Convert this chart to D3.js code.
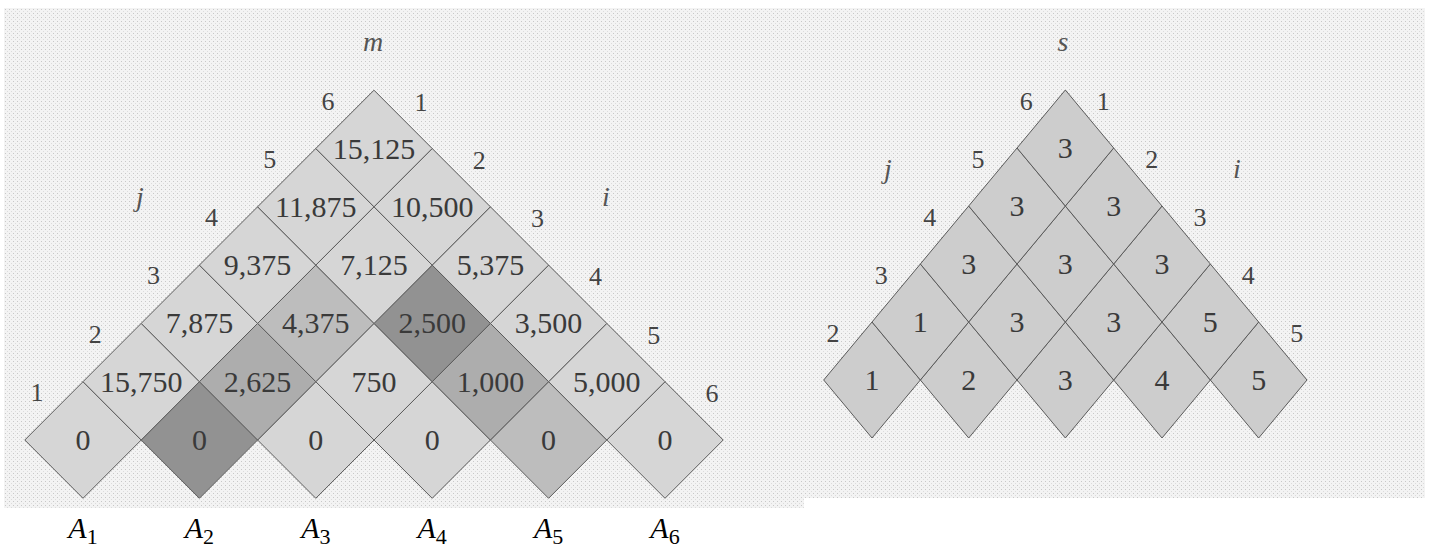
<!DOCTYPE html>
<html>
<head>
<meta charset="utf-8">
<script src="https://cdn.jsdelivr.net/npm/d3@7"></script>
<style>
  html, body { margin: 0; padding: 0; background: #ffffff; }
  svg { display: block; }
  svg text { font-family: "Liberation Serif", "DejaVu Serif", "Times New Roman", Times, serif; }
</style>
</head>
<body>
<svg id="chart" width="1429" height="548"></svg>
<script>
// ---------- DATA ----------
const matrixSize = 6;
// m table, rows by chain length l = j - i + 1
const mRow1 = [0, 0, 0, 0, 0, 0];
const mRow2 = [15750, 2625, 750, 1000, 5000];
const mRow3 = [7875, 4375, 2500, 3500];
const mRow4 = [9375, 7125, 5375];
const mRow5 = [11875, 10500];
const mRow6 = [15125];
// s table, rows by chain length l = 2..6
const sRow2 = [1, 2, 3, 4, 5];
const sRow3 = [1, 3, 3, 5];
const sRow4 = [3, 3, 3];
const sRow5 = [3, 3];
const sRow6 = [3];
// highlighted m cells: [i, j, shade group]
const highlightCells = [[2, 2, 3], [3, 5, 3], [2, 3, 2], [4, 5, 2], [2, 4, 1], [5, 5, 1]];
const matrixLabels = ["1", "2", "3", "4", "5", "6"];
const tableNames = ["m", "s"];

// ---------- STYLE ----------
const shadeColors = { 0: "#d6d6d6", 1: "#bdbdbd", 2: "#adadad", 3: "#929292" };
const sFill = "#cdcdcd";
const strokeColor = "#5a5a5a";
const textColor = "#3a3a3a";
const labelColor = "#444444";
const fmt = d3.format(",");

const svg = d3.select("#chart");

// stippled background approximation
const defs = svg.append("defs");
const pat = defs.append("pattern").attr("id", "stipple").attr("width", 4).attr("height", 4)
  .attr("patternUnits", "userSpaceOnUse");
pat.append("rect").attr("width", 4).attr("height", 4).attr("fill", "#f3f3f3");
pat.append("rect").attr("x", 1).attr("y", 1).attr("width", 1).attr("height", 1).attr("fill", "#c8c8c8");
pat.append("rect").attr("x", 3).attr("y", 3).attr("width", 1).attr("height", 1).attr("fill", "#dcdcdc");

svg.append("rect").attr("x", 4).attr("y", 8).attr("width", 800).attr("height", 500).attr("fill", "url(#stipple)");
svg.append("rect").attr("x", 800).attr("y", 8).attr("width", 625).attr("height", 490).attr("fill", "url(#stipple)");

const mRows = [mRow1, mRow2, mRow3, mRow4, mRow5, mRow6];
const sRows = [sRow2, sRow3, sRow4, sRow5, sRow6];

function buildCells(rows, firstLen) {
  const out = [];
  rows.forEach((row, r) => {
    const len = firstLen + r;
    row.forEach((v, k) => {
      const i = k + 1, j = i + len - 1;
      out.push({ i, j, v });
    });
  });
  return out;
}
const mCells = buildCells(mRows, 1);
const sCells = buildCells(sRows, 2);

function shadeOf(c) {
  const h = highlightCells.find(d => d[0] === c.i && d[1] === c.j);
  return h ? h[2] : 0;
}

function drawPanel(opts) {
  const { cells, xScale, yScale, fillFn, jLabels, iLabels, offJ, offI, name, namePos, jPos, iPos } = opts;
  const hw = xScale(1.5) - xScale(1);
  const hh = yScale(opts.baseD) - yScale(opts.baseD + 1);
  const g = svg.append("g");
  const cx = c => xScale((c.i + c.j) / 2);
  const cy = c => yScale(c.j - c.i);
  g.selectAll("path.cell").data(cells).join("path")
    .attr("class", "cell")
    .attr("d", c => {
      const x = cx(c), y = cy(c);
      return `M${x},${y - hh}L${x + hw},${y}L${x},${y + hh}L${x - hw},${y}Z`;
    })
    .attr("fill", fillFn)
    .attr("stroke", strokeColor)
    .attr("stroke-width", 1);
  g.selectAll("text.val").data(cells).join("text")
    .attr("class", "val")
    .attr("x", cx).attr("y", c => cy(c) + 10)
    .attr("text-anchor", "middle")
    .attr("font-size", 30)
    .attr("fill", textColor)
    .text(c => fmt(c.v));
  g.selectAll("text.jl").data(jLabels).join("text")
    .attr("class", "jl")
    .attr("x", k => xScale((1 + k) / 2) + offJ[0])
    .attr("y", k => yScale(k - 1) + offJ[1] + 9)
    .attr("text-anchor", "middle")
    .attr("font-size", 26)
    .attr("fill", labelColor)
    .text(k => matrixLabels[k - 1]);
  g.selectAll("text.il").data(iLabels).join("text")
    .attr("class", "il")
    .attr("x", k => xScale((k + matrixSize) / 2) + offI[0])
    .attr("y", k => yScale(matrixSize - k) + offI[1] + 9)
    .attr("text-anchor", "middle")
    .attr("font-size", 26)
    .attr("fill", labelColor)
    .text(k => matrixLabels[k - 1]);
  const it = (txt, p, size) => g.append("text")
    .attr("x", p[0]).attr("y", p[1])
    .attr("text-anchor", "middle")
    .attr("font-style", "italic")
    .attr("font-size", size)
    .attr("fill", "#555555")
    .text(txt);
  it(name, namePos, 28);
  it("j", jPos, 28);
  it("i", iPos, 28);
}

// Left panel: m
const xLeft = d3.scaleLinear().domain([1, 6]).range([83, 665]);
const yLeft = d3.scaleLinear().domain([0, 5]).range([440, 148.5]);
drawPanel({
  cells: mCells, xScale: xLeft, yScale: yLeft, baseD: 0,
  fillFn: c => shadeColors[shadeOf(c)],
  jLabels: [1, 2, 3, 4, 5, 6], iLabels: [1, 2, 3, 4, 5, 6],
  offJ: [-46, -48], offI: [47, -47],
  name: tableNames[0], namePos: [373, 51], jPos: [140, 206], iPos: [606, 206]
});

// Right panel: s
const xRight = d3.scaleLinear().domain([1, 6]).range([823.7, 1307]);
const yRight = d3.scaleLinear().domain([1, 5]).range([380, 148]);
drawPanel({
  cells: sCells, xScale: xRight, yScale: yRight, baseD: 1,
  fillFn: () => sFill,
  jLabels: [2, 3, 4, 5, 6], iLabels: [1, 2, 3, 4, 5],
  offJ: [-39, -47], offI: [38, -47],
  name: tableNames[1], namePos: [1063, 51], jPos: [888, 178], iPos: [1237, 178]
});

// Matrix labels A_k under the left panel
const aG = svg.append("g");
matrixLabels.forEach((lab, idx) => {
  const t = aG.append("text")
    .attr("x", xLeft(idx + 1)).attr("y", 538)
    .attr("text-anchor", "middle")
    .attr("fill", "#000000");
  t.append("tspan").attr("font-style", "italic").attr("font-size", 30).text("A");
  t.append("tspan").attr("font-size", 22).attr("dy", 6).text(lab);
});
</script>
</body>
</html>
